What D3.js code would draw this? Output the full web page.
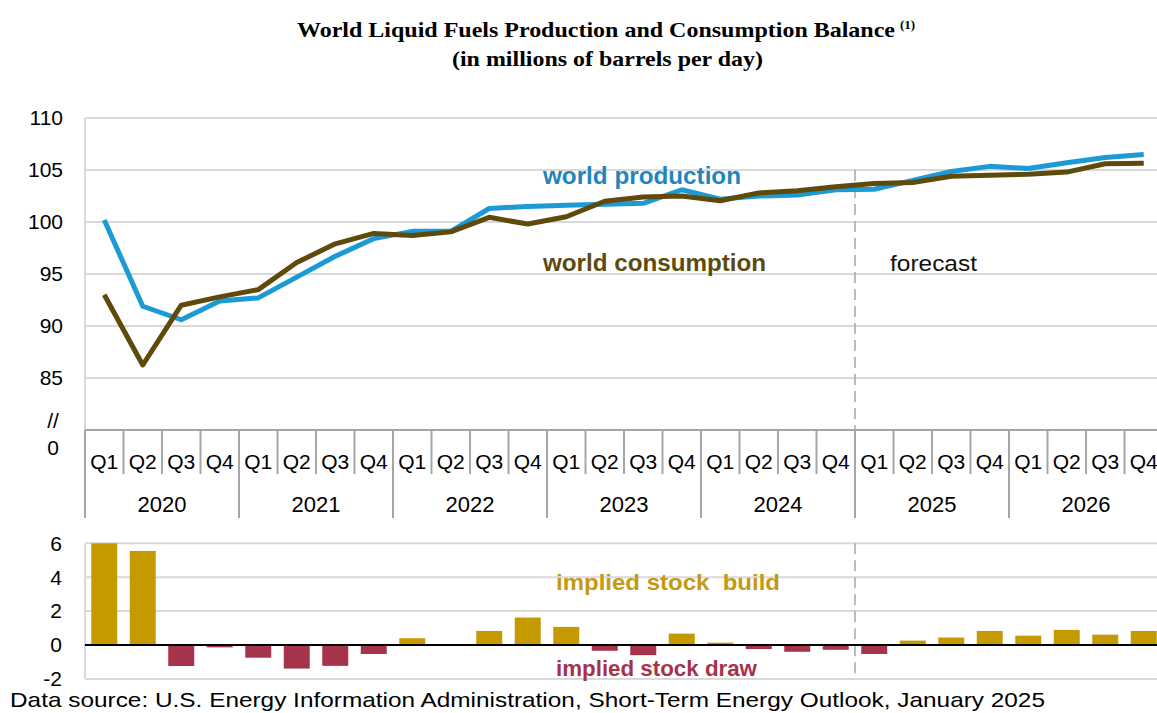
<!DOCTYPE html>
<html>
<head>
<meta charset="utf-8">
<script src="https://cdn.jsdelivr.net/npm/d3@7"></script>
<style>
  body { margin: 0; background: #fff; }
  svg { display: block; }
</style>
</head>
<body>
<div id="chart-container"></div>
<script>
// Data
let years = ["2020", "2021", "2022", "2023", "2024", "2025", "2026"];
let quarters = ["Q1", "Q2", "Q3", "Q4"];

let production = [100.2, 91.9, 90.6, 92.4, 92.7, 94.7, 96.7, 98.4,
  99.1, 99.1, 101.3, 101.5, 101.6, 101.7, 101.8, 103.1,
  102.2, 102.5, 102.6, 103.1, 103.15, 104.0, 104.85, 105.35,
  105.15, 105.7, 106.2, 106.5];

let consumption = [93.0, 86.25, 92.0, 92.8, 93.5, 96.1, 97.9, 98.9,
  98.7, 99.05, 100.45, 99.8, 100.5, 102.0, 102.4, 102.5,
  102.05, 102.8, 103.0, 103.4, 103.7, 103.8, 104.4, 104.5,
  104.6, 104.8, 105.6, 105.65];

let stockChange = [6.0, 5.55, -1.24, -0.14, -0.75, -1.39, -1.23, -0.53,
  0.40, 0.0, 0.83, 1.62, 1.07, -0.34, -0.6, 0.67,
  0.14, -0.24, -0.4, -0.28, -0.53, 0.26, 0.44, 0.83,
  0.55, 0.89, 0.61, 0.83];

let topTicks = [85, 90, 95, 100, 105, 110];
let bottomTicks = [-2, 0, 2, 4, 6];
let forecastStart = 20; // index of 2025 Q1

// one entry per quarter
let periods = [];
years.forEach(function(y) {
  quarters.forEach(function(q) {
    periods.push({ year: y, quarter: q });
  });
});

let width = 1157;
let height = 713;
let plotLeft = 85;
let plotRight = 1163;

let svg = d3.select("#chart-container").append("svg")
  .attr("width", width)
  .attr("height", height);

let x = d3.scaleBand()
  .domain(d3.range(periods.length))
  .range([plotLeft, plotRight])
  .padding(0);

let yTop = d3.scaleLinear().domain([80, 110]).range([430, 118]);
let yBot = d3.scaleLinear().domain([-2, 6]).range([678.9, 543.3]);

let gridColor = "#d9d9d9";
let axisGray = "#a6a6a6";
let sans = "'Liberation Sans', Arial, sans-serif";
let serif = "'Liberation Serif', 'Times New Roman', serif";

// Title (the original is a bit stretched sideways, so fix the widths)
svg.append("text")
  .attr("x", 297)
  .attr("y", 37)
  .attr("textLength", 598)
  .attr("lengthAdjust", "spacingAndGlyphs")
  .style("font-family", serif)
  .style("font-weight", "bold")
  .style("font-size", "21px")
  .text("World Liquid Fuels Production and Consumption Balance");

svg.append("text")
  .attr("x", 900)
  .attr("y", 29)
  .style("font-family", serif)
  .style("font-weight", "bold")
  .style("font-size", "13px")
  .text("(1)");

svg.append("text")
  .attr("x", 452)
  .attr("y", 66)
  .attr("textLength", 311)
  .attr("lengthAdjust", "spacingAndGlyphs")
  .style("font-family", serif)
  .style("font-weight", "bold")
  .style("font-size", "21px")
  .text("(in millions of barrels per day)");

// ---- top panel ----
let topG = svg.append("g");

topG.selectAll(".grid")
  .data(topTicks)
  .enter().append("line")
  .attr("x1", plotLeft)
  .attr("x2", plotRight)
  .attr("y1", function(d) { return yTop(d); })
  .attr("y2", function(d) { return yTop(d); })
  .attr("stroke", gridColor)
  .attr("stroke-width", 2);

topG.append("line")
  .attr("x1", plotLeft).attr("x2", plotLeft)
  .attr("y1", yTop(110)).attr("y2", yTop(80))
  .attr("stroke", gridColor)
  .attr("stroke-width", 2);

topG.selectAll(".ytick")
  .data(topTicks)
  .enter().append("text")
  .attr("x", 63)
  .attr("y", function(d) { return yTop(d); })
  .attr("dy", "0.35em")
  .attr("text-anchor", "end")
  .style("font-family", sans)
  .style("font-size", "21px")
  .text(function(d) { return d; });

// axis break marks
topG.append("text")
  .attr("x", 53).attr("y", 421).attr("dy", "0.35em")
  .attr("text-anchor", "middle")
  .style("font-family", sans)
  .style("font-size", "21px")
  .text("//");
topG.append("text")
  .attr("x", 53).attr("y", 448).attr("dy", "0.35em")
  .attr("text-anchor", "middle")
  .style("font-family", sans)
  .style("font-size", "21px")
  .text("0");

// forecast divider
let fx = x(forecastStart);
topG.append("line")
  .attr("x1", fx).attr("x2", fx)
  .attr("y1", yTop(105)).attr("y2", yTop(80))
  .attr("stroke", axisGray)
  .attr("stroke-width", 1.5)
  .attr("stroke-dasharray", "11,6");

let line = function(values) {
  return d3.line()
    .x(function(d, i) { return x(i) + x.bandwidth() / 2; })
    .y(function(d) { return yTop(d); })(values);
};

topG.append("path")
  .attr("d", line(production))
  .attr("fill", "none")
  .attr("stroke", "#1b9ad6")
  .attr("stroke-width", 5)
  .attr("stroke-linejoin", "round");

topG.append("path")
  .attr("d", line(consumption))
  .attr("fill", "none")
  .attr("stroke", "#5f4a0b")
  .attr("stroke-width", 5)
  .attr("stroke-linejoin", "round");

topG.append("text")
  .attr("x", 543).attr("y", 184)
  .attr("textLength", 198)
  .attr("lengthAdjust", "spacingAndGlyphs")
  .style("font-family", sans)
  .style("font-weight", "bold")
  .style("font-size", "23px")
  .attr("fill", "#1f86bd")
  .text("world production");

topG.append("text")
  .attr("x", 543).attr("y", 271)
  .attr("textLength", 223)
  .attr("lengthAdjust", "spacingAndGlyphs")
  .style("font-family", sans)
  .style("font-weight", "bold")
  .style("font-size", "23px")
  .attr("fill", "#5c4a0e")
  .text("world consumption");

topG.append("text")
  .attr("x", 890).attr("y", 271)
  .attr("textLength", 87)
  .attr("lengthAdjust", "spacingAndGlyphs")
  .style("font-family", sans)
  .style("font-size", "22px")
  .attr("fill", "#111")
  .text("forecast");

// ---- category axis ----
let cat = svg.append("g");

cat.append("line")
  .attr("x1", plotLeft).attr("x2", width)
  .attr("y1", 430).attr("y2", 430)
  .attr("stroke", axisGray)
  .attr("stroke-width", 2);

cat.selectAll(".qdiv")
  .data(d3.range(periods.length))
  .enter().append("line")
  .attr("x1", function(i) { return x(i); })
  .attr("x2", function(i) { return x(i); })
  .attr("y1", 430)
  .attr("y2", function(i) { return i % 4 === 0 ? 518 : 474; })
  .attr("stroke", axisGray)
  .attr("stroke-width", 2);

cat.selectAll(".qlabel")
  .data(periods)
  .enter().append("text")
  .attr("x", function(d, i) { return x(i) + x.bandwidth() / 2; })
  .attr("y", 462)
  .attr("dy", "0.35em")
  .attr("text-anchor", "middle")
  .style("font-family", sans)
  .style("font-size", "21px")
  .text(function(d) { return d.quarter; });

cat.selectAll(".ylabel")
  .data(years)
  .enter().append("text")
  .attr("x", function(d, i) { return x(i * 4) + x.bandwidth() * 2; })
  .attr("y", 504)
  .attr("dy", "0.35em")
  .attr("text-anchor", "middle")
  .style("font-family", sans)
  .style("font-size", "22px")
  .text(function(d) { return d; });

// ---- bottom panel: implied stock change ----
let botG = svg.append("g");

botG.selectAll(".grid")
  .data(bottomTicks.filter(function(d) { return d !== 0; }))
  .enter().append("line")
  .attr("x1", plotLeft)
  .attr("x2", plotRight)
  .attr("y1", function(d) { return yBot(d); })
  .attr("y2", function(d) { return yBot(d); })
  .attr("stroke", gridColor)
  .attr("stroke-width", 2);

botG.append("line")
  .attr("x1", plotLeft).attr("x2", plotLeft)
  .attr("y1", yBot(6)).attr("y2", yBot(-2))
  .attr("stroke", gridColor)
  .attr("stroke-width", 2);

botG.selectAll(".ytick")
  .data(bottomTicks)
  .enter().append("text")
  .attr("x", 62)
  .attr("y", function(d) { return yBot(d); })
  .attr("dy", "0.35em")
  .attr("text-anchor", "end")
  .style("font-family", sans)
  .style("font-size", "21px")
  .text(function(d) { return d; });

botG.append("line")
  .attr("x1", fx).attr("x2", fx)
  .attr("y1", yBot(6)).attr("y2", yBot(-2))
  .attr("stroke", axisGray)
  .attr("stroke-width", 1.5)
  .attr("stroke-dasharray", "11,6");

let barW = x.bandwidth() * 0.675;

botG.selectAll(".bar")
  .data(stockChange)
  .enter().append("rect")
  .attr("x", function(d, i) { return x(i) + (x.bandwidth() - barW) / 2; })
  .attr("width", barW)
  .attr("y", function(d) { return yBot(Math.max(0, d)); })
  .attr("height", function(d) { return Math.abs(yBot(d) - yBot(0)); })
  .attr("fill", function(d) { return d >= 0 ? "#c49a00" : "#a5334a"; });

botG.append("line")
  .attr("x1", plotLeft).attr("x2", plotRight)
  .attr("y1", yBot(0)).attr("y2", yBot(0))
  .attr("stroke", "#000")
  .attr("stroke-width", 2);

botG.append("text")
  .attr("x", 556).attr("y", 590)
  .attr("textLength", 224)
  .attr("lengthAdjust", "spacingAndGlyphs")
  .style("font-family", sans)
  .style("font-weight", "bold")
  .style("font-size", "22px")
  .style("white-space", "pre")
  .attr("fill", "#c49a12")
  .text("implied stock  build");

botG.append("text")
  .attr("x", 556).attr("y", 676)
  .attr("textLength", 201)
  .attr("lengthAdjust", "spacingAndGlyphs")
  .style("font-family", sans)
  .style("font-weight", "bold")
  .style("font-size", "22px")
  .attr("fill", "#a5324a")
  .text("implied stock draw");

// source note
svg.append("text")
  .attr("x", 10).attr("y", 707)
  .attr("textLength", 1035)
  .attr("lengthAdjust", "spacingAndGlyphs")
  .style("font-family", sans)
  .style("font-size", "21px")
  .attr("fill", "#000")
  .text("Data source: U.S. Energy Information Administration, Short-Term Energy Outlook, January 2025");
</script>
</body>
</html>
